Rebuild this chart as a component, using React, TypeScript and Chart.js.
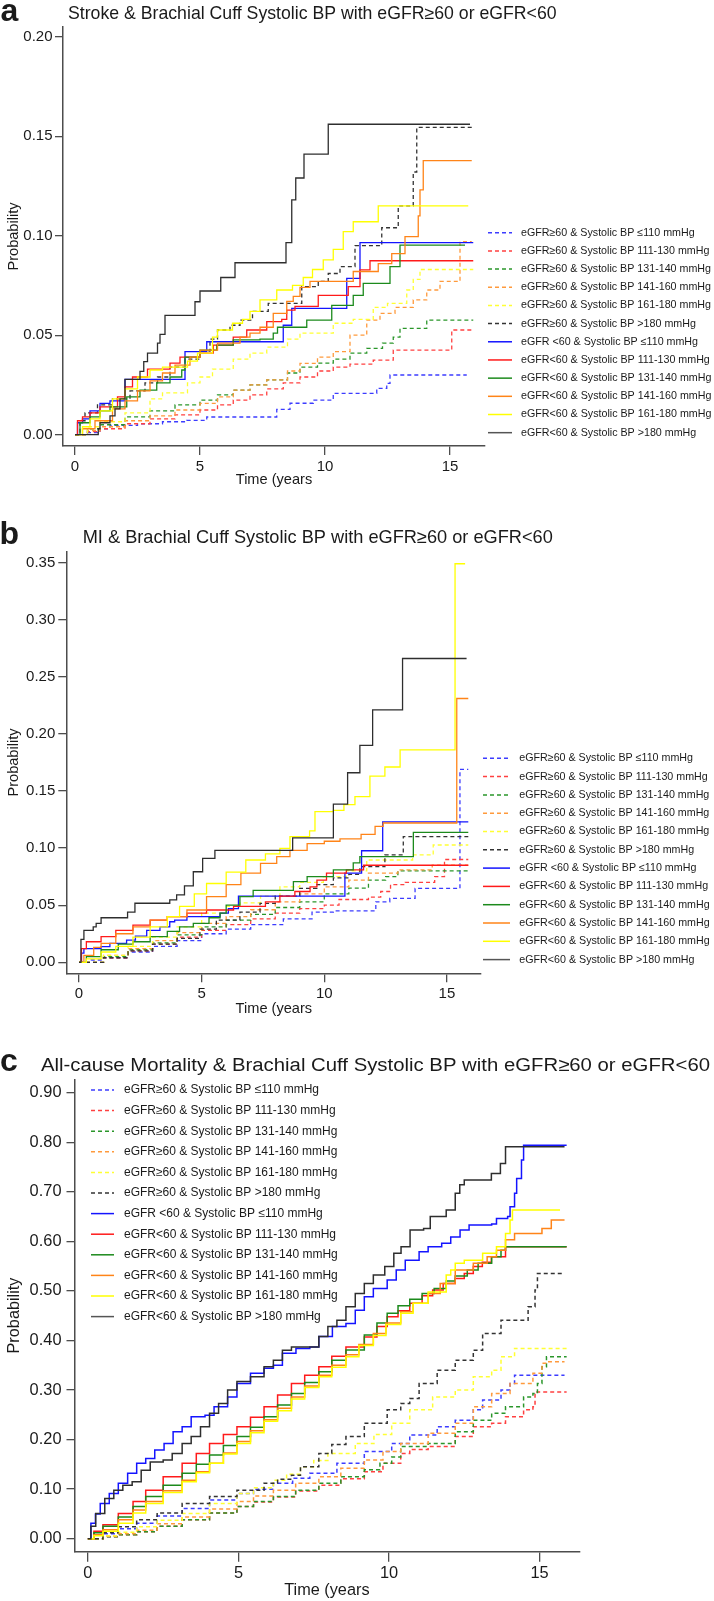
import React, { useEffect, useRef } from "react";
import { Chart, registerables } from "chart.js";

Chart.register(...registerables);

type Pt = [number, number];

const FONT = '"Liberation Sans", Arial, Helvetica, sans-serif';

// ---------- categories / labels ----------
const groupLabels = [
  "eGFR≥60 & Systolic BP ≤110 mmHg",
  "eGFR≥60 & Systolic BP 111-130 mmHg",
  "eGFR≥60 & Systolic BP 131-140 mmHg",
  "eGFR≥60 & Systolic BP 141-160 mmHg",
  "eGFR≥60 & Systolic BP 161-180 mmHg",
  "eGFR≥60 & Systolic BP >180 mmHg",
  "eGFR <60 & Systolic BP ≤110 mmHg",
  "eGFR<60 & Systolic BP 111-130 mmHg",
  "eGFR<60 & Systolic BP 131-140 mmHg",
  "eGFR<60 & Systolic BP 141-160 mmHg",
  "eGFR<60 & Systolic BP 161-180 mmHg",
  "eGFR<60 & Systolic BP >180 mmHg",
];
const panelLetters = ["a", "b", "c"];
const panelTitles = [
  "Stroke & Brachial Cuff Systolic BP with eGFR≥60 or eGFR<60",
  "MI & Brachial Cuff Systolic BP with eGFR≥60 or eGFR<60",
  "All-cause Mortality & Brachial Cuff Systolic BP with eGFR≥60 or eGFR<60",
];
const xAxisTitle = "Time (years";
const yAxisTitle = "Probability";
const timeTicks = [0, 5, 10, 15];
const strokeProbTicks = [0, 0.05, 0.1, 0.15, 0.2];
const miProbTicks = [0, 0.05, 0.1, 0.15, 0.2, 0.25, 0.3, 0.35];
const mortProbTicks = [0, 0.1, 0.2, 0.3, 0.4, 0.5, 0.6, 0.7, 0.8, 0.9];

// ---------- panel a: stroke ----------
const strokeGe60Le110: Pt[] = [[0,0],[0.5,0.001],[1,0.003],[1.4,0.0047],[2.5,0.0055],[3.5,0.0065],[4.47,0.0072],[5.27,0.0089],[8.07,0.0127],[8.6,0.0158],[9.53,0.0174],[10.33,0.0208],[12.07,0.0233],[12.47,0.0258],[12.6,0.03],[15.67,0.03]];
const strokeGe60S130: Pt[] = [[0,0],[0.5,0.0015],[1,0.003],[2,0.0055],[3,0.008],[4,0.01],[5,0.0124],[5.7,0.015],[6.33,0.0174],[7,0.02],[7.67,0.023],[8.33,0.026],[9,0.029],[9.7,0.032],[10.33,0.034],[11,0.0355],[11.93,0.0375],[12.73,0.0425],[15.07,0.0526],[15.93,0.0526]];
const strokeGe60S140: Pt[] = [[0,0],[0.5,0.003],[1,0.005],[2,0.009],[3,0.012],[4,0.015],[5,0.0174],[5.7,0.02],[6.33,0.0224],[7,0.025],[7.67,0.0275],[8.5,0.031],[9,0.034],[9.7,0.036],[10.33,0.038],[11,0.041],[11.67,0.0434],[12.3,0.046],[12.73,0.049],[13,0.0534],[14.07,0.0576],[15.93,0.0576]];
const strokeGe60S160: Pt[] = [[0,0],[0.5,0.002],[1,0.004],[2,0.007],[3,0.0095],[4,0.0124],[5,0.0157],[5.7,0.019],[6.33,0.0224],[7,0.025],[7.67,0.0275],[8.5,0.032],[9,0.0358],[9.7,0.039],[10.33,0.0417],[11,0.05],[11.67,0.0576],[12.2,0.061],[12.8,0.064],[13.53,0.0677],[14.07,0.0727],[14.6,0.077],[15.4,0.097],[15.87,0.097]];
const strokeGe60S180: Pt[] = [[0,0],[0.5,0.004],[1,0.0065],[2,0.011],[3,0.018],[3.5,0.021],[4.5,0.026],[5,0.029],[5.5,0.033],[6.33,0.038],[7,0.041],[7.67,0.044],[8.5,0.048],[9,0.051],[10.33,0.056],[11.13,0.058],[11.93,0.064],[12.5,0.066],[13.27,0.0727],[13.53,0.078],[13.8,0.083],[15.93,0.083]];
const strokeGe60Gt180: Pt[] = [[0,0],[0.2,0.007],[0.4,0.011],[0.9,0.015],[1.5,0.018],[2.2,0.022],[2.8,0.026],[3.3,0.029],[3.8,0.034],[4.4,0.038],[5,0.042],[5.4,0.048],[5.7,0.0526],[6.2,0.055],[6.6,0.0576],[7.1,0.062],[7.73,0.066],[9.07,0.0744],[9.73,0.077],[10.13,0.081],[10.6,0.0845],[11.2,0.095],[12.27,0.104],[12.93,0.115],[13.53,0.132],[13.67,0.1544],[15.93,0.1544]];
const strokeLt60Le110: Pt[] = [[0,0],[0.1,0.006],[0.3,0.008],[0.6,0.012],[1,0.0157],[1.4,0.017],[2,0.0278],[4.4,0.0417],[5.27,0.0467],[8.33,0.055],[8.67,0.0635],[10.87,0.0786],[11.4,0.0965],[15.93,0.0965]];
const strokeLt60S130: Pt[] = [[0,0],[0.1,0.007],[0.3,0.009],[0.6,0.011],[1,0.014],[1.7,0.019],[2,0.024],[2.3,0.029],[2.9,0.033],[3.8,0.036],[4.2,0.039],[5,0.041],[5.53,0.045],[6.33,0.049],[6.87,0.0526],[7.67,0.0568],[8.27,0.058],[8.47,0.0626],[8.8,0.0645],[9.73,0.07],[10.93,0.0744],[11.4,0.0828],[11.8,0.0874],[15.93,0.0874]];
const strokeLt60S140: Pt[] = [[0,0],[0.2,0.006],[0.6,0.009],[1,0.012],[1.4,0.014],[2.07,0.019],[2.6,0.0224],[3.27,0.026],[3.8,0.029],[4.27,0.0325],[4.4,0.039],[5,0.0425],[5.67,0.045],[6.33,0.0476],[7.4,0.048],[7.93,0.051],[8.1,0.054],[9.27,0.0576],[10.27,0.065],[11.13,0.07],[11.53,0.076],[12.6,0.0845],[13,0.0953],[15.6,0.0953]];
const strokeLt60S160: Pt[] = [[0,0],[0.3,0.003],[0.8,0.007],[1.5,0.013],[2,0.017],[2.5,0.022],[3,0.027],[3.5,0.031],[4,0.035],[4.6,0.039],[5,0.0425],[5.7,0.046],[6.6,0.049],[7,0.051],[7.4,0.054],[7.93,0.061],[8.47,0.067],[8.73,0.0695],[9,0.074],[9.4,0.077],[11.13,0.082],[12.13,0.086],[12.67,0.091],[13.2,0.0995],[13.73,0.11],[13.8,0.123],[13.93,0.1377],[15.87,0.1377]];
const strokeLt60S180: Pt[] = [[0,0],[0.3,0.004],[0.6,0.008],[1,0.012],[1.5,0.018],[2,0.023],[2.5,0.029],[3,0.0325],[3.5,0.034],[4.5,0.037],[4.9,0.041],[5.5,0.049],[5.7,0.0526],[6.3,0.056],[6.7,0.058],[7,0.062],[7.4,0.0677],[8.07,0.0727],[8.7,0.075],[9.13,0.079],[9.5,0.083],[9.93,0.0878],[10.33,0.0931],[10.73,0.102],[11.13,0.107],[12.13,0.115],[15.73,0.115]];
const strokeLt60Gt180: Pt[] = [[0,0],[0.93,0.003],[1,0.006],[1.4,0.0095],[1.6,0.013],[1.8,0.018],[2,0.0278],[2.6,0.0318],[2.75,0.0367],[2.9,0.041],[3.3,0.046],[3.4,0.0504],[3.6,0.06],[4.8,0.0668],[5,0.0722],[5.83,0.079],[6.4,0.0864],[8.44,0.0965],[8.67,0.118],[8.83,0.129],[9.16,0.141],[10.13,0.156],[15.8,0.156]];

// ---------- panel b: MI ----------
const miGe60Le110: Pt[] = [[0,0],[0.5,0.002],[1,0.004],[2,0.009],[3,0.014],[4,0.019],[5,0.025],[6,0.029],[7,0.033],[8.33,0.038],[9.5,0.044],[10.37,0.045],[12.1,0.053],[12.67,0.056],[13.7,0.0647],[15.53,0.169],[15.87,0.169]];
const miGe60S130: Pt[] = [[0,0],[1,0.004],[2,0.01],[3,0.016],[4,0.022],[5,0.028],[6,0.033],[7,0.038],[8,0.043],[9,0.047],[10,0.05],[10.6,0.055],[11.8,0.057],[12.3,0.062],[12.7,0.068],[13.3,0.07],[14.5,0.075],[14.9,0.09],[15.87,0.09]];
const miGe60S140: Pt[] = [[0,0],[1,0.005],[2,0.011],[3,0.017],[4,0.024],[5,0.031],[6,0.037],[7,0.042],[8,0.048],[9,0.053],[10,0.06],[11,0.065],[11.8,0.072],[12.5,0.075],[13,0.08],[15.87,0.081]];
const miGe60S160: Pt[] = [[0,0],[1,0.006],[2,0.012],[3,0.019],[4,0.026],[5,0.034],[6,0.04],[7,0.046],[8,0.053],[9,0.06],[10,0.066],[11,0.072],[11.8,0.078],[13,0.081],[14.4,0.085],[15.87,0.085]];
const miGe60S180: Pt[] = [[0,0],[1,0.006],[2,0.014],[3,0.022],[4,0.031],[5,0.043],[6,0.049],[6.56,0.052],[7.4,0.058],[8.19,0.066],[9,0.07],[9.96,0.075],[10.9,0.08],[11.73,0.0896],[13.6,0.094],[14.44,0.1027],[15.87,0.1027]];
const miGe60Gt180: Pt[] = [[0,0],[1,0.004],[2,0.01],[3,0.016],[4,0.021],[4.93,0.029],[5.6,0.037],[6.56,0.044],[7.38,0.0516],[8,0.058],[9,0.0648],[9.7,0.068],[10.37,0.074],[11,0.077],[11.45,0.0838],[12.47,0.094],[13.22,0.11],[15.87,0.11]];
const miLt60Le110: Pt[] = [[0,0],[0.1,0.008],[0.2,0.012],[0.9,0.0137],[1.26,0.0166],[1.94,0.0195],[2.3,0.023],[2.76,0.028],[3.3,0.031],[3.7,0.0355],[3.9,0.037],[4.4,0.04],[5.75,0.043],[6.09,0.047],[6.5,0.058],[10.84,0.078],[11.52,0.0977],[12.38,0.123],[15.87,0.123]];
const miLt60S130: Pt[] = [[0,0],[0.1,0.012],[0.3,0.018],[0.9,0.0224],[1.5,0.028],[2.2,0.0326],[2.9,0.037],[3.6,0.04],[4.4,0.043],[5.2,0.0458],[6.3,0.049],[7.6,0.053],[8.19,0.058],[8.8,0.062],[9.42,0.066],[9.7,0.072],[10.09,0.078],[10.9,0.081],[11.6,0.085],[15.87,0.085]];
const miLt60S140: Pt[] = [[0,0],[0.3,0.005],[0.9,0.011],[1.6,0.016],[2.2,0.018],[2.9,0.0224],[3.6,0.027],[4.1,0.031],[4.66,0.034],[5.3,0.039],[5.75,0.043],[6,0.05],[6.56,0.0575],[7.1,0.063],[8.74,0.0706],[9.3,0.075],[10.37,0.081],[11.18,0.087],[11.45,0.0925],[13.63,0.1138],[15.87,0.1138]];
const miLt60S160: Pt[] = [[0,0],[0.2,0.006],[0.6,0.013],[0.9,0.0166],[1.5,0.025],[2.2,0.031],[2.9,0.037],[3.6,0.04],[4.4,0.0458],[5.2,0.0575],[6,0.068],[6.6,0.078],[7.4,0.0867],[8.06,0.0925],[8.6,0.098],[9.3,0.104],[10,0.106],[10.64,0.108],[11.5,0.112],[12.07,0.119],[12.4,0.122],[15.4,0.231],[15.87,0.231]];
const miLt60S180: Pt[] = [[0,0],[0.3,0.003],[0.9,0.009],[1.5,0.014],[2.2,0.022],[2.9,0.031],[3.6,0.04],[4.1,0.049],[4.7,0.06],[5.2,0.069],[6,0.079],[6.8,0.0896],[7.6,0.095],[8.19,0.0998],[8.6,0.11],[9.4,0.115],[9.62,0.132],[10.37,0.133],[10.8,0.138],[11.25,0.145],[11.86,0.163],[12.47,0.171],[13.09,0.186],[15.33,0.349],[15.74,0.349]];
const miLt60Gt180: Pt[] = [[0,0],[0.08,0.02],[0.2,0.028],[0.58,0.031],[0.7,0.034],[0.9,0.039],[1.98,0.044],[2.28,0.0517],[3.7,0.0546],[3.98,0.059],[4.3,0.067],[4.66,0.0793],[5.04,0.091],[5.54,0.098],[8.71,0.109],[10.37,0.1385],[10.95,0.166],[11.45,0.19],[11.97,0.221],[13.19,0.266],[15.8,0.266]];

// ---------- panel c: all-cause mortality ----------
const mortGe60Le110: Pt[] = [[0,0],[0.5,0.01],[1,0.02],[1.62,0.031],[2.3,0.046],[3.13,0.061],[4.04,0.078],[4.95,0.091],[5.5,0.1],[6.16,0.112],[6.8,0.122],[7.37,0.132],[8.27,0.152],[9.18,0.176],[10.09,0.192],[10.69,0.209],[11.6,0.226],[12.2,0.239],[12.8,0.26],[13.11,0.28],[13.72,0.3],[14.02,0.313],[14.17,0.33],[15.83,0.33]];
const mortGe60S130: Pt[] = [[0,0],[0.5,0.004],[1,0.008],[1.62,0.014],[2.3,0.025],[3.13,0.038],[4.04,0.052],[4.95,0.065],[5.5,0.074],[6.16,0.084],[6.9,0.096],[7.67,0.108],[8.4,0.121],[9.18,0.135],[9.8,0.152],[10.39,0.172],[10.69,0.18],[11.3,0.186],[12.2,0.206],[12.8,0.226],[13.41,0.233],[13.87,0.246],[14.47,0.26],[14.78,0.266],[14.85,0.296],[15.9,0.296]];
const mortGe60S140: Pt[] = [[0,0],[0.5,0.004],[1,0.008],[1.62,0.014],[2.3,0.025],[3.13,0.038],[4.04,0.052],[4.95,0.065],[5.5,0.075],[6.16,0.085],[6.9,0.098],[7.67,0.112],[8.4,0.125],[9.18,0.139],[9.7,0.152],[10.09,0.165],[10.39,0.186],[11.3,0.192],[12.2,0.216],[12.8,0.239],[13.41,0.253],[13.87,0.266],[14.47,0.286],[14.78,0.293],[14.93,0.313],[15.08,0.347],[15.23,0.367],[15.9,0.367]];
const mortGe60S160: Pt[] = [[0,0],[0.5,0.005],[1,0.01],[1.62,0.017],[2.3,0.03],[3.13,0.044],[4.04,0.06],[4.95,0.075],[5.5,0.086],[6.16,0.098],[6.9,0.112],[7.67,0.125],[8.4,0.142],[9.18,0.159],[9.8,0.176],[10.39,0.192],[11.3,0.213],[12.2,0.233],[12.8,0.266],[13.41,0.293],[14.02,0.313],[14.47,0.313],[14.78,0.334],[15.08,0.354],[15.23,0.357],[15.83,0.357]];
const mortGe60S180: Pt[] = [[0,0],[0.5,0.006],[1,0.013],[1.62,0.024],[2.3,0.037],[3.13,0.051],[4.04,0.071],[4.95,0.091],[5.5,0.103],[6.16,0.118],[6.6,0.13],[7.06,0.145],[7.5,0.158],[7.97,0.172],[8.88,0.192],[9.5,0.21],[10.09,0.233],[10.69,0.26],[11.45,0.286],[12.2,0.3],[12.8,0.327],[13.41,0.34],[13.72,0.367],[14.17,0.384],[15.9,0.384]];
const mortGe60Gt180: Pt[] = [[0,0],[0.5,0.012],[1,0.024],[1.62,0.038],[2.3,0.052],[3.13,0.071],[4.04,0.085],[4.95,0.098],[5.85,0.112],[6.3,0.12],[6.76,0.128],[7.06,0.145],[7.67,0.172],[8.1,0.19],[8.57,0.206],[9.18,0.233],[9.94,0.26],[10.39,0.273],[10.69,0.283],[11,0.313],[11.6,0.34],[12.2,0.36],[12.8,0.38],[13.11,0.414],[13.72,0.441],[14.47,0.441],[14.62,0.468],[14.85,0.502],[14.93,0.535],[15.83,0.535]];
const mortLt60Le110: Pt[] = [[0,0],[0.1,0.031],[0.25,0.05],[0.41,0.071],[0.71,0.091],[1.01,0.112],[1.32,0.132],[1.62,0.152],[1.92,0.162],[2.22,0.179],[2.53,0.192],[2.83,0.216],[3.13,0.226],[3.43,0.246],[3.89,0.249],[4.19,0.266],[4.64,0.286],[4.95,0.313],[5.4,0.334],[5.85,0.344],[6.16,0.35],[6.46,0.374],[6.91,0.384],[7.37,0.387],[7.67,0.408],[8.12,0.428],[8.57,0.434],[8.88,0.461],[9.18,0.488],[9.48,0.505],[9.94,0.522],[10.24,0.542],[10.54,0.562],[11,0.579],[11.3,0.589],[11.75,0.596],[12.05,0.609],[12.36,0.623],[12.66,0.633],[13.41,0.635],[13.57,0.646],[13.94,0.65],[14.02,0.67],[14.17,0.697],[14.24,0.727],[14.4,0.764],[14.47,0.794],[15.9,0.794]];
const mortLt60S130: Pt[] = [[0,0],[0.2,0.015],[0.5,0.028],[1.01,0.051],[1.5,0.075],[1.92,0.098],[2.5,0.125],[3.13,0.152],[3.6,0.172],[4.04,0.192],[4.5,0.21],[4.95,0.226],[5.4,0.245],[5.85,0.266],[6.3,0.29],[6.76,0.313],[7.2,0.33],[7.67,0.347],[8.1,0.368],[8.57,0.387],[9.18,0.407],[9.6,0.428],[9.94,0.448],[10.3,0.46],[10.69,0.475],[11.1,0.49],[11.45,0.502],[11.8,0.515],[12.2,0.525],[12.5,0.535],[12.8,0.549],[13.1,0.558],[13.4,0.569],[13.87,0.589],[15.9,0.589]];
const mortLt60S140: Pt[] = [[0,0],[0.2,0.012],[0.5,0.025],[1.01,0.044],[1.5,0.065],[1.92,0.085],[2.5,0.108],[3.13,0.132],[3.6,0.15],[4.04,0.169],[4.5,0.188],[4.95,0.206],[5.4,0.225],[5.85,0.246],[6.3,0.27],[6.76,0.293],[7.2,0.315],[7.67,0.337],[8.1,0.36],[8.57,0.381],[9.18,0.411],[9.6,0.435],[9.94,0.455],[10.3,0.47],[10.69,0.483],[11.1,0.495],[11.5,0.505],[11.9,0.52],[12.2,0.53],[12.6,0.542],[12.96,0.556],[13.41,0.569],[13.72,0.582],[13.87,0.589],[15.9,0.589]];
const mortLt60S160: Pt[] = [[0,0],[0.2,0.008],[0.5,0.018],[1.01,0.038],[1.5,0.058],[1.92,0.075],[2.5,0.097],[3.13,0.118],[3.6,0.135],[4.04,0.152],[4.5,0.173],[4.95,0.196],[5.4,0.218],[5.85,0.24],[6.3,0.263],[6.76,0.286],[7.2,0.308],[7.67,0.33],[8.1,0.35],[8.57,0.371],[9,0.392],[9.48,0.414],[9.9,0.435],[10.39,0.458],[10.8,0.475],[11.3,0.495],[11.7,0.515],[12.2,0.542],[12.8,0.556],[13.26,0.569],[13.57,0.582],[13.87,0.603],[14.17,0.616],[15.08,0.626],[15.39,0.643],[15.83,0.643]];
const mortLt60S180: Pt[] = [[0,0],[0.2,0.006],[0.5,0.015],[1.01,0.031],[1.5,0.052],[1.92,0.071],[2.5,0.093],[3.13,0.115],[3.6,0.133],[4.04,0.152],[4.5,0.171],[4.95,0.192],[5.4,0.214],[5.85,0.237],[6.3,0.258],[6.76,0.282],[7.2,0.305],[7.67,0.327],[8.1,0.346],[8.57,0.367],[9,0.39],[9.48,0.41],[9.9,0.432],[10.39,0.455],[10.8,0.475],[11.3,0.498],[11.9,0.532],[12.05,0.542],[12.2,0.556],[12.5,0.562],[13.11,0.576],[13.57,0.589],[13.87,0.616],[14.02,0.643],[14.1,0.663],[15.68,0.663]];
const mortLt60Gt180: Pt[] = [[0,0],[0.1,0.025],[0.26,0.051],[0.56,0.081],[0.86,0.098],[1.16,0.108],[1.47,0.115],[1.77,0.138],[2.07,0.155],[2.5,0.159],[2.8,0.172],[3.13,0.192],[3.43,0.206],[3.74,0.226],[4.04,0.253],[4.34,0.273],[4.64,0.3],[4.95,0.317],[5.4,0.327],[5.85,0.347],[6.16,0.36],[6.46,0.38],[6.76,0.387],[7.37,0.387],[7.67,0.408],[7.97,0.428],[8.27,0.441],[8.57,0.468],[8.88,0.495],[9.18,0.515],[9.48,0.532],[9.86,0.549],[10.16,0.576],[10.4,0.589],[10.7,0.623],[11.15,0.626],[11.37,0.65],[11.9,0.663],[12.2,0.697],[12.35,0.714],[12.5,0.724],[13.34,0.724],[13.4,0.737],[13.7,0.757],[13.87,0.791],[15.83,0.791]];

const strokeSeries = [strokeGe60Le110, strokeGe60S130, strokeGe60S140, strokeGe60S160, strokeGe60S180, strokeGe60Gt180, strokeLt60Le110, strokeLt60S130, strokeLt60S140, strokeLt60S160, strokeLt60S180, strokeLt60Gt180];
const miSeries = [miGe60Le110, miGe60S130, miGe60S140, miGe60S160, miGe60S180, miGe60Gt180, miLt60Le110, miLt60S130, miLt60S140, miLt60S160, miLt60S180, miLt60Gt180];
const mortSeries = [mortGe60Le110, mortGe60S130, mortGe60S140, mortGe60S160, mortGe60S180, mortGe60Gt180, mortLt60Le110, mortLt60S130, mortLt60S140, mortLt60S160, mortLt60S180, mortLt60Gt180];

// ---------- styles ----------
const seriesColors = ["#3c3cff", "#ff4040", "#2a962a", "#ff9a3c", "#ffff33", "#333333", "#1414ff", "#ff1a1a", "#1c8a1c", "#ff8418", "#ffff00", "#2e2e2e"];
const legendColors = ["#3c3cff", "#ff4040", "#2a962a", "#ff9a3c", "#ffff33", "#333333", "#1414ff", "#ff1a1a", "#1c8a1c", "#ff8418", "#ffff00", "#555555"];

type Spec = {
  top: number; height: number;
  area: { left: number; right: number; top: number; bottom: number };
  xMin: number; xMax: number; yMin: number; yMax: number;
  yTicks: number[]; series: Pt[][];
  tickSize: number; yTickLen: number; yTickPad: number; xTickLen: number; xTickPad: number;
  axisTitleSize: number; xTitlePad: number; yTitlePad: number;
  letter: string; letterX: number; letterY: number; letterSize: number;
  title: string; titleX: number; titleY: number; titleSize: number; titleWidth?: number;
  legX0: number; legX1: number; legTextX: number; legY0: number; legDy: number; legSize: number;
  lineWidth: number;
};

const panels: Spec[] = [
  {
    top: 0, height: 500,
    area: { left: 63, right: 485, top: 27, bottom: 446 },
    xMin: -0.48, xMax: 16.4, yMin: -0.00568, yMax: 0.20487,
    yTicks: strokeProbTicks, series: strokeSeries,
    tickSize: 15, yTickLen: 8, yTickPad: 2.5, xTickLen: 9, xTickPad: 3,
    axisTitleSize: 14.6, xTitlePad: 11.2, yTitlePad: 5.7,
    letter: panelLetters[0], letterX: 0.5, letterY: 20.7, letterSize: 32,
    title: panelTitles[0], titleX: 68, titleY: 19.3, titleSize: 17.7,
    legX0: 488, legX1: 512, legTextX: 521, legY0: 232.7, legDy: 18.18, legSize: 10.7,
    lineWidth: 1.3,
  },
  {
    top: 500, height: 520,
    area: { left: 66.7, right: 481, top: 51.7, bottom: 473.3 },
    xMin: -0.5014, xMax: 16.388, yMin: -0.00963, yMax: 0.35954,
    yTicks: miProbTicks, series: miSeries,
    tickSize: 15, yTickLen: 8.4, yTickPad: 3, xTickLen: 9, xTickPad: 2.5,
    axisTitleSize: 14.6, xTitlePad: 2.2, yTitlePad: 5.7,
    letter: panelLetters[1], letterX: -0.5, letterY: 44, letterSize: 32,
    title: panelTitles[1], titleX: 82.7, titleY: 43.3, titleSize: 18.2,
    legX0: 483, legX1: 510, legTextX: 519.3, legY0: 258.3, legDy: 18.3, legSize: 10.7,
    lineWidth: 1.3,
  },
  {
    top: 1020, height: 581,
    area: { left: 74.5, right: 579.2, top: 59.3, bottom: 531.7 },
    xMin: -0.445, xMax: 16.317, yMin: -0.02623, yMax: 0.92696,
    yTicks: mortProbTicks, series: mortSeries,
    tickSize: 16.4, yTickLen: 8, yTickPad: 5, xTickLen: 10, xTickPad: 1.5,
    axisTitleSize: 16.3, xTitlePad: 1.2, yTitlePad: 5,
    letter: panelLetters[2], letterX: 0, letterY: 50.7, letterSize: 32,
    title: panelTitles[2], titleX: 41, titleY: 50.7, titleSize: 18.8, titleWidth: 669,
    legX0: 91, legX1: 114, legTextX: 124, legY0: 70, legDy: 20.6, legSize: 12,
    lineWidth: 1.5,
  },
];

const AXIS = "#4d4d4d";
const TEXT = "#1a1a1a";

function buildChart(canvas: HTMLCanvasElement, p: Spec) {
  const datasets = p.series.map((s, i) => ({
    label: groupLabels[i],
    data: s.map(([x, y]) => ({ x, y })),
    borderColor: seriesColors[i],
    backgroundColor: seriesColors[i],
    borderWidth: p.lineWidth,
    borderDash: i < 6 ? [4, 3] : [],
    pointRadius: 0,
    pointHoverRadius: 0,
    stepped: true,
    fill: false,
    tension: 0,
    order: 11 - i,
  }));

  const decor = {
    id: "decor",
    afterDraw(chart: any) {
      const ctx: CanvasRenderingContext2D = chart.ctx;
      ctx.save();
      ctx.fillStyle = TEXT;
      ctx.textAlign = "left";
      ctx.textBaseline = "alphabetic";
      ctx.font = `bold ${p.letterSize}px ${FONT}`;
      ctx.fillText(p.letter, p.letterX, p.letterY);
      ctx.font = `${p.titleSize}px ${FONT}`;
      const tw = ctx.measureText(p.title).width;
      ctx.save();
      ctx.translate(p.titleX, p.titleY);
      if (p.titleWidth) ctx.scale(p.titleWidth / tw, 1);
      ctx.fillText(p.title, 0, 0);
      ctx.restore();

      ctx.font = `${p.legSize}px ${FONT}`;
      ctx.textBaseline = "middle";
      groupLabels.forEach((lab, i) => {
        const y = p.legY0 + i * p.legDy;
        ctx.strokeStyle = legendColors[i];
        ctx.lineWidth = 1.5;
        ctx.setLineDash(i < 6 ? [4, 3] : []);
        ctx.beginPath();
        ctx.moveTo(p.legX0, y);
        ctx.lineTo(p.legX1, y);
        ctx.stroke();
        ctx.setLineDash([]);
        ctx.fillStyle = TEXT;
        ctx.fillText(lab, p.legTextX, y);
      });
      ctx.restore();
    },
  };

  return new Chart(canvas, {
    type: "line",
    data: { datasets: datasets as any },
    plugins: [decor],
    options: {
      animation: false,
      responsive: false,
      devicePixelRatio: 1,
      events: [],
      layout: { padding: { left: 0, top: p.area.top, right: 714 - p.area.right, bottom: 0 } },
      plugins: { legend: { display: false }, tooltip: { enabled: false }, title: { display: false } },
      scales: {
        x: {
          type: "linear",
          min: p.xMin,
          max: p.xMax,
          bounds: "data",
          afterBuildTicks: (ax: any) => { ax.ticks = timeTicks.map((v) => ({ value: v })); },
          afterFit: (ax: any) => { ax.height = p.height - p.area.bottom; ax.paddingLeft = 0; ax.paddingRight = 0; },
          grid: { display: true, drawOnChartArea: false, drawTicks: true, tickLength: p.xTickLen, color: AXIS, tickColor: AXIS, lineWidth: 1.3 },
          border: { display: true, color: AXIS, width: 1.5 },
          ticks: { autoSkip: false, maxRotation: 0, padding: p.xTickPad, color: TEXT, font: { family: FONT, size: p.tickSize }, callback: (v: any) => String(v) },
          title: { display: true, text: xAxisTitle, color: TEXT, font: { family: FONT, size: p.axisTitleSize }, padding: { top: 0, bottom: p.xTitlePad } },
        },
        y: {
          type: "linear",
          min: p.yMin,
          max: p.yMax,
          bounds: "data",
          afterBuildTicks: (ax: any) => { ax.ticks = p.yTicks.map((v) => ({ value: v })); },
          afterFit: (ax: any) => { ax.width = p.area.left; ax.paddingTop = 0; ax.paddingBottom = 0; },
          grid: { display: true, drawOnChartArea: false, drawTicks: true, tickLength: p.yTickLen, color: AXIS, tickColor: AXIS, lineWidth: 1.3 },
          border: { display: true, color: AXIS, width: 1.5 },
          ticks: { autoSkip: false, padding: p.yTickPad, color: TEXT, font: { family: FONT, size: p.tickSize }, callback: (v: any) => Number(v).toFixed(2) },
          title: { display: true, text: yAxisTitle, color: TEXT, font: { family: FONT, size: p.axisTitleSize }, padding: { top: p.yTitlePad, bottom: 0 } },
        },
      },
    } as any,
  });
}

function Panel({ spec }: { spec: Spec }) {
  const ref = useRef<HTMLCanvasElement>(null);
  useEffect(() => {
    if (!ref.current) return;
    const chart = buildChart(ref.current, spec);
    return () => chart.destroy();
  }, [spec]);
  return (
    <canvas
      ref={ref}
      width={714}
      height={spec.height}
      style={{ position: "absolute", left: 0, top: spec.top, width: 714, height: spec.height, display: "block" }}
    />
  );
}

export default function App() {
  return (
    <div style={{ position: "absolute", left: 0, top: 0, width: 714, height: 1601, background: "#ffffff", overflow: "hidden" }}>
      {panels.map((p, i) => (
        <Panel key={i} spec={p} />
      ))}
    </div>
  );
}
